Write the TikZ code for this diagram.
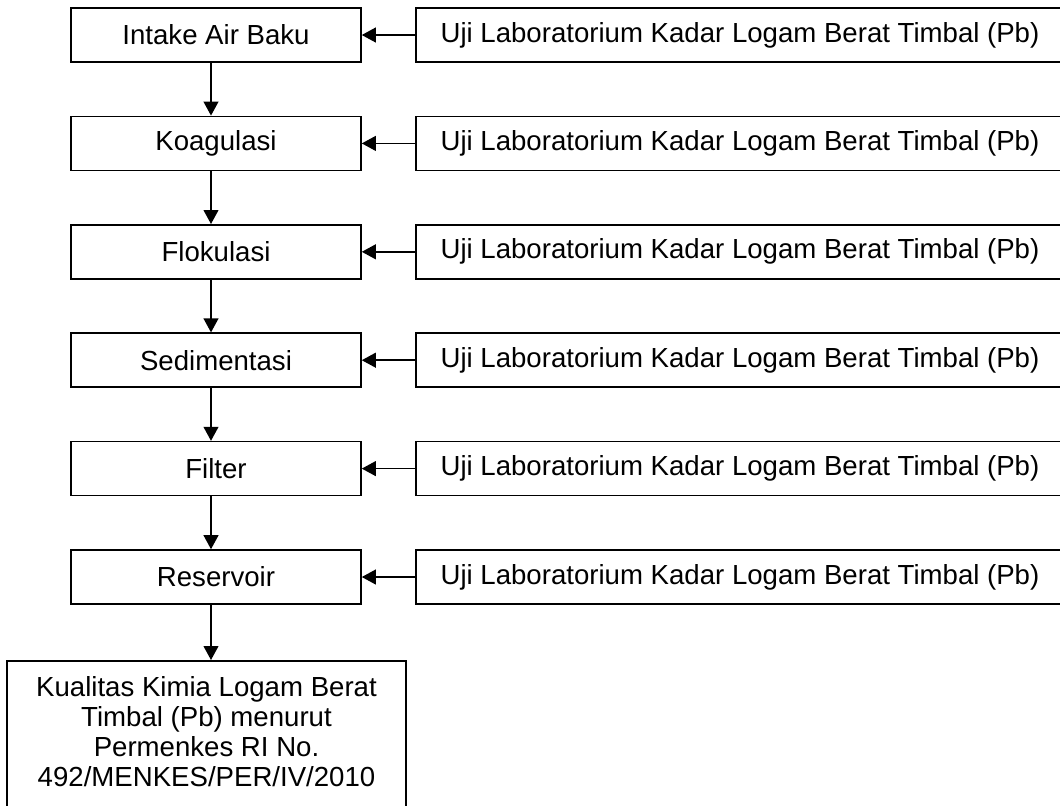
\documentclass[tikz,border=0pt]{standalone}
\usepackage{fontspec}
\setmainfont{Liberation Sans}
\usetikzlibrary{arrows.meta,positioning}
\tikzstyle{proc} = [rectangle, draw, line width=0.8pt, inner sep=0pt,
    minimum width=145pt, minimum height=27pt, font=\fontsize{13.8}{15}\selectfont]
\tikzstyle{uji} = [proc, minimum width=324pt]
\tikzstyle{hasil} = [proc, minimum width=199.5pt, align=center, inner ysep=8pt]
\tikzstyle{arr} = [-{Triangle[length=7pt,width=7.4pt]}, line width=0.8pt]
\tikzstyle{down} = [arr, transform canvas={xshift=-2.5pt}]
\newcommand{\ujilab}{Uji Laboratorium Kadar Logam Berat Timbal (Pb)}

\begin{document}
\begin{tikzpicture}[x=0.5pt,y=-0.5pt,node distance=54.2pt]
  \path[use as bounding box,clip] (0,0) rectangle (1060,805);

  \node[proc] (intake) at (216,35) {Intake Air Baku};
  \node[proc] (koag) [below of=intake] {Koagulasi};
  \node[proc] (flok) [below of=koag] {Flokulasi};
  \node[proc] (sedi) [below of=flok] {Sedimentasi};
  \node[proc] (filt) [below of=sedi] {Filter};
  \node[proc] (resv) [below of=filt] {Reservoir};
  \node[hasil,anchor=north] (kual) at (206.5,660)
    {Kualitas Kimia Logam Berat\\Timbal (Pb) menurut\\Permenkes RI No.\\492/MENKES/PER/IV/2010\rule[-10pt]{0pt}{0pt}};

  \node[uji] (u1) [node distance=262pt,right of=intake] {\ujilab};
  \node[uji] (u2) [node distance=262pt,right of=koag] {\ujilab};
  \node[uji] (u3) [node distance=262pt,right of=flok] {\ujilab};
  \node[uji] (u4) [node distance=262pt,right of=sedi] {\ujilab};
  \node[uji] (u5) [node distance=262pt,right of=filt] {\ujilab};
  \node[uji] (u6) [node distance=262pt,right of=resv] {\ujilab};

  \path[down] (intake) edge (koag);
  \path[down] (koag) edge (flok);
  \path[down] (flok) edge (sedi);
  \path[down] (sedi) edge (filt);
  \path[down] (filt) edge (resv);
  \draw[down] (resv.south) -- (resv.south |- kual.north);

  \path[arr] (u1) edge (intake);
  \path[arr] (u2) edge (koag);
  \path[arr] (u3) edge (flok);
  \path[arr] (u4) edge (sedi);
  \path[arr] (u5) edge (filt);
  \path[arr] (u6) edge (resv);
\end{tikzpicture}
\end{document}
